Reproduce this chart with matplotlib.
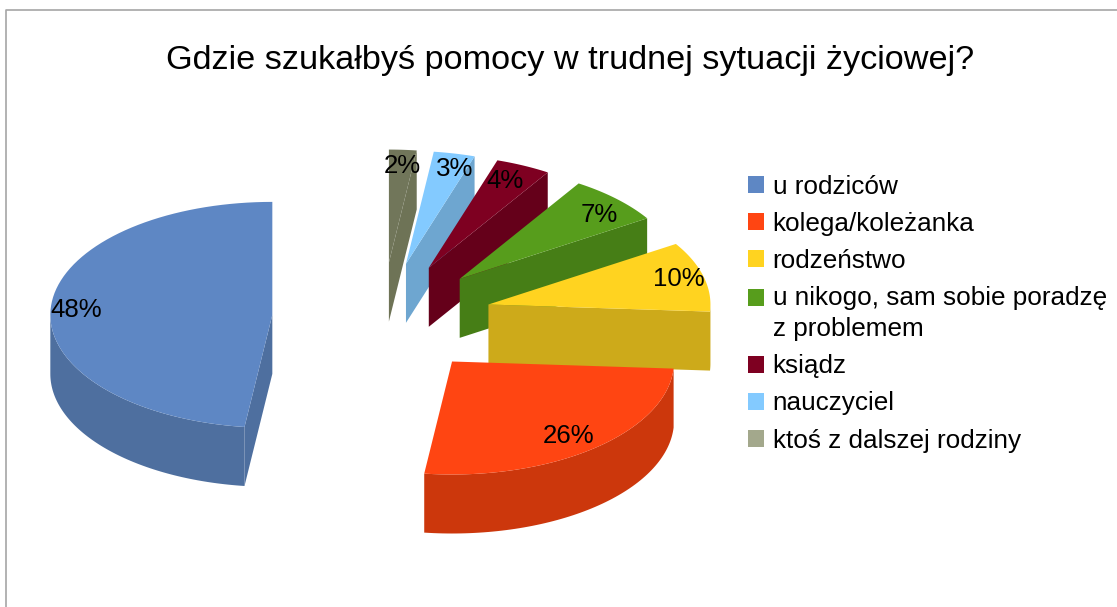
import numpy as np
import matplotlib
matplotlib.use("Agg")
import matplotlib.pyplot as plt
from matplotlib.patches import Patch, Rectangle
from matplotlib.legend_handler import HandlerPatch

plt.rcParams['font.family'] = ['Liberation Sans', 'DejaVu Sans']

# data
title = "Gdzie szukałbyś pomocy w trudnej sytuacji życiowej?"
categories = ["u rodziców", "kolega/koleżanka", "rodzeństwo",
              "u nikogo, sam sobie poradzę\nz problemem", "ksiądz",
              "nauczyciel", "ktoś z dalszej rodziny"]
percent = [48, 26, 10, 7, 4, 3, 2]

# colours
top_colors = ["#5e87c4", "#ff4512", "#ffd320", "#579d1c", "#7e0021", "#83caff", "#71765a"]
side_colors = ["#4e6f9f", "#cc370c", "#cdaa1a", "#467e16", "#65001a", "#6ea6d0", "#6e7356"]
legend_colors = ["#5e87c4", "#ff4512", "#ffd320", "#579d1c", "#7e0021", "#83caff", "#a3a88c"]

# pie geometry in pixels
cx, cy = 382, 318.4
rx, ry = 222, 113
depth = 59
explode = 0.495
# label nudge from the computed anchor, pixels
nudge = [(0, 1), (-9, -2), (0, -1), (0, 6), (-8, 3), (6, 2), (1, 2)]

fig = plt.figure(figsize=(11.17, 6.07), dpi=100)
ax = fig.add_axes([0, 0, 1, 1])
ax.set_xlim(0, 1117)
ax.set_ylim(607, 0)
ax.axis("off")

# grey frame at top and left
ax.plot([6, 6, 1117], [607, 9.5, 9.5], color="#a6a6a6", lw=1.2, zorder=0)


def rim_xy(c, a1, a2):
    t = np.radians(np.linspace(a1, a2, 80))
    return c[0] + rx * np.cos(t), c[1] - ry * np.sin(t)


# angles and centres from the values
start = 90.0
slices = []
for i, p in enumerate(percent):
    sweep = p * 3.6
    mid = np.radians(start + sweep / 2)
    c = (cx + explode * rx * np.cos(mid), cy - explode * ry * np.sin(mid))
    slices.append((i, start, start + sweep, c))
    start += sweep

# back to front
z = 2
for i, a1, a2, c in sorted(slices, key=lambda s: s[3][1]):
    # flat side walls
    for a in (a1, a2):
        facing = np.cos(np.radians(a)) > 0.001 if a == a1 else np.cos(np.radians(a)) < -0.001
        if facing:
            ex, ey = rim_xy(c, a, a)
            ax.fill([c[0], ex[0], ex[0], c[0]],
                    [c[1], ey[0], ey[0] + depth, c[1] + depth],
                    color=side_colors[i], lw=0, zorder=z)
    # outer rim, only the part on the front half
    for k in (0, 1):
        lo, hi = max(a1, 180 + 360 * k), min(a2, 360 + 360 * k)
        if lo < hi:
            x, y = rim_xy(c, lo, hi)
            ax.fill(np.r_[x, x[::-1]], np.r_[y, y[::-1] + depth],
                    color=side_colors[i], lw=0, zorder=z)
    # top face
    x, y = rim_xy(c, a1, a2)
    ax.fill(np.r_[c[0], x], np.r_[c[1], y], color=top_colors[i], lw=0, zorder=z + 0.5)
    z += 1

# percent labels
for i, a1, a2, c in slices:
    t = np.radians((a1 + a2) / 2)
    lx = c[0] + rx * np.cos(t) - 25 * np.cos(t) + nudge[i][0]
    ly = c[1] - ry * np.sin(t) + 14 * np.sin(t) + nudge[i][1]
    ax.text(lx, ly, f"{percent[i]}%", fontsize=18.6, color="black",
            ha="center", va="center", zorder=30)

ax.text(570, 61, title, fontsize=24.7, color="black", ha="center", va="center")


def first_line_box(legend, orig_handle, xdescent, ydescent, width, height, fontsize):
    # two line entry: the square stays by the first line
    return Rectangle((-xdescent, -ydescent + 12), width, height)


handles = [Patch(facecolor=col, edgecolor=col, alpha=1, lw=0) for col in legend_colors]
leg = ax.legend(handles, categories, loc="upper left",
                bbox_to_anchor=(748 / 1117, 1 - 175 / 607),
                fontsize=18.8, frameon=False,
                handlelength=0.62, handleheight=0.62, handletextpad=0.32,
                labelspacing=0.5, borderpad=0, borderaxespad=0,
                handler_map={handles[3]: HandlerPatch(patch_func=first_line_box)})
leg.get_texts()[3].set_linespacing(1.38)

fig.savefig("out.png", dpi=100, facecolor="white")
